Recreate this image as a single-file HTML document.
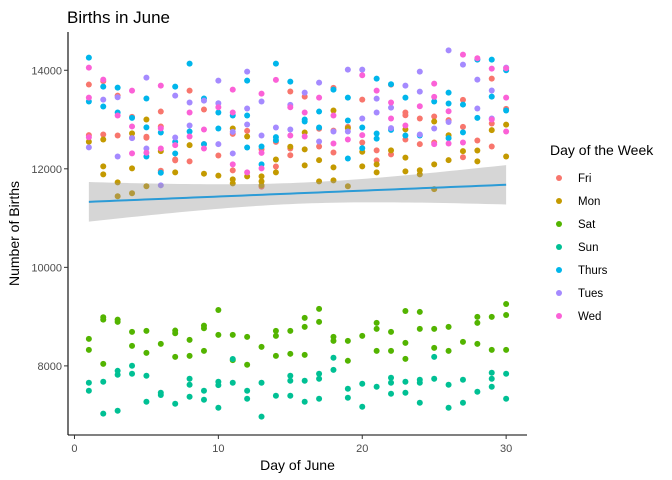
<!DOCTYPE html>
<html><head><meta charset="utf-8"><style>
body{margin:0;background:#fff;}
svg{display:block;font-family:"Liberation Sans",Arial,sans-serif;}
</style></head><body>
<svg id="chart" width="672" height="480"></svg>
<script>
const seriesNames=["Fri","Mon","Sat","Sun","Thurs","Tues","Wed"];
const seriesColors=["#F8766D","#C49A00","#53B400","#00C094","#00B6EB","#A58AFF","#FB61D7"];
const xTicks=[0,10,20,30];
const yTicks=[8000,10000,12000,14000];
const fitDays=[1,30];
const fitValues=[11330,11676];
const bandDays=[1,15.5,30];
const bandHalf=[402,213,400];
const fri=[[1,13710],[1,12684],[2,13780],[2,12697],[3,13486],[3,12677],[4,13054],[4,12629],[5,12650],[5,12630],[6,13162],[6,12860],[6,11961],[7,12190],[7,12170],[8,13588],[8,12151],[9,13203],[9,12500],[10,12270],[11,12709],[11,11969],[12,12770],[13,12398],[13,11638],[14,12546],[14,12047],[15,13568],[15,12413],[15,12276],[16,13466],[17,12812],[17,12453],[18,13642],[18,12776],[18,12332],[19,12852],[20,13405],[20,12534],[21,12373],[21,12170],[22,13709],[22,12294],[23,13142],[23,13088],[23,12595],[24,13021],[24,12500],[25,13061],[25,12534],[26,12987],[27,13399],[27,12852],[27,12235],[28,12575],[29,13831],[29,12920],[29,12452],[30,13216]];
const mon=[[1,12550],[2,12596],[2,12049],[2,11887],[3,11725],[3,11442],[4,12719],[4,12009],[4,11503],[5,13000],[5,11645],[6,12359],[7,11928],[8,12480],[9,11901],[10,11861],[11,12817],[11,11786],[11,11705],[12,12656],[12,11847],[13,11847],[13,11746],[13,11665],[14,12190],[14,11928],[15,12449],[16,12736],[16,12394],[16,12069],[17,12176],[17,11746],[18,13183],[18,12029],[18,11766],[19,12825],[19,11645],[20,12345],[20,12049],[21,12089],[21,11928],[22,12373],[23,12800],[23,12227],[23,11949],[24,11972],[24,11887],[25,12960],[25,12089],[25,11587],[26,12681],[26,12176],[27,12359],[28,12371],[28,12150],[29,12784],[30,12898],[30,12250]];
const sat=[[1,8548],[1,8326],[2,8987],[2,8940],[2,8042],[3,8940],[3,8893],[4,8690],[4,8406],[5,8710],[5,8265],[6,8447],[7,8717],[7,8663],[7,8184],[8,8528],[8,8204],[9,8818],[9,8764],[9,8305],[10,9135],[10,8629],[11,8629],[11,8116],[12,8589],[12,8022],[13,8386],[14,8710],[14,8609],[14,8204],[15,8710],[15,8245],[16,8974],[16,8791],[16,8224],[17,9156],[17,8893],[18,8589],[18,8508],[19,8508],[19,8103],[20,8609],[21,8872],[21,8751],[21,8305],[22,8690],[22,8305],[23,9115],[23,8467],[23,8143],[24,9095],[24,8751],[25,8751],[25,8366],[26,8791],[26,8305],[27,8487],[28,8994],[28,8872],[28,8447],[29,8994],[29,8326],[30,9257],[30,9034],[30,8326]];
const sun=[[1,7657],[1,7495],[2,7678],[2,7030],[3,7900],[3,7819],[3,7090],[4,8002],[4,7840],[5,7799],[5,7273],[6,7455],[6,7408],[7,7232],[8,7738],[8,7617],[8,7374],[9,7495],[9,7313],[10,7678],[10,7610],[10,7151],[11,8140],[11,7657],[12,7495],[12,7333],[13,7657],[13,6969],[14,7394],[15,7799],[15,7698],[15,7394],[16,7698],[16,7273],[17,7840],[17,7738],[17,7333],[18,8164],[18,7920],[19,7536],[19,7354],[20,7637],[20,7171],[21,7576],[22,7758],[22,7657],[22,7435],[23,7678],[23,7455],[24,7718],[24,7657],[24,7252],[25,8184],[25,7738],[26,7617],[26,7151],[27,7718],[27,7252],[28,7475],[29,7860],[29,7738],[29,7576],[30,7840],[30,7333]];
const thurs=[[1,14256],[1,13365],[2,13669],[2,13264],[3,13648],[3,13142],[4,13034],[5,13426],[5,12840],[5,12251],[6,12737],[6,11921],[7,13669],[7,12548],[7,12312],[8,14135],[8,12757],[9,13426],[9,12500],[10,13142],[10,12817],[11,13081],[12,13791],[12,13081],[12,12432],[13,12452],[13,12089],[14,14135],[14,12642],[14,12580],[15,13770],[16,13002],[16,12960],[17,13162],[17,12838],[18,13608],[19,13446],[19,12980],[19,12210],[20,12838],[20,12420],[21,13831],[21,12716],[21,12612],[22,13716],[22,12791],[23,13446],[23,12677],[24,12676],[25,13365],[26,13547],[26,13325],[26,12623],[27,13304],[27,12740],[28,14216],[28,13034],[29,14216],[29,13466],[30,14000],[30,13183]];
const tues=[[1,12434],[2,13405],[3,13452],[3,12251],[4,12622],[5,13851],[5,12413],[6,11665],[7,13486],[7,12636],[8,13345],[8,12879],[9,13385],[10,13791],[10,13331],[10,12500],[11,12750],[11,12312],[12,13973],[12,13223],[12,12899],[13,13365],[13,12675],[14,12839],[15,13297],[15,12798],[16,13547],[17,13750],[17,12554],[18,12758],[19,14014],[19,12758],[20,14014],[20,13020],[21,13425],[21,13142],[22,13243],[22,12825],[23,13689],[24,13973],[24,13567],[24,12697],[25,12818],[26,14405],[26,12949],[27,14115],[28,13811],[28,13223],[29,13589],[29,13020],[30,14054]];
const wed=[[1,14054],[1,13446],[1,12640],[2,13811],[3,13081],[4,13588],[4,12860],[4,12313],[5,12325],[6,13689],[6,12820],[6,12413],[7,12481],[8,13142],[8,12656],[9,12798],[9,12413],[10,13250],[11,13608],[11,13142],[11,12089],[12,11928],[13,13527],[13,12324],[13,12008],[14,13804],[15,13250],[15,12676],[16,13143],[16,12656],[17,13446],[18,13081],[18,12514],[19,12595],[20,13898],[20,12683],[21,13588],[22,13345],[22,13021],[23,12879],[24,13270],[25,13730],[25,13459],[25,12500],[26,13169],[26,12514],[27,14317],[27,12534],[28,14243],[29,14034],[29,13000],[30,14040],[30,13446],[30,12757]];

const allSeries=[fri,mon,sat,sun,thurs,tues,wed];
const NS="http://www.w3.org/2000/svg";
const svg=document.getElementById("chart");
function mk(tag,attrs,parent){const e=document.createElementNS(NS,tag);for(const k in attrs)e.setAttribute(k,attrs[k]);(parent||svg).appendChild(e);return e;}
const pl=68,pr=527,pt=32,pb=435;
let xs=[],ys=[];allSeries.forEach(s=>s.forEach(p=>{xs.push(p[0]);ys.push(p[1]);}));
const xmin=Math.min(...xs),xmax=Math.max(...xs),ymin=Math.min(...ys),ymax=Math.max(...ys);
const xlo=xmin-(xmax-xmin)*0.05,xhi=xmax+(xmax-xmin)*0.05;
const ylo=ymin-(ymax-ymin)*0.05,yhi=ymax+(ymax-ymin)*0.05;
function sx(v){return pl+(v-xlo)/(xhi-xlo)*(pr-pl);}
function sy(v){return pb-(v-ylo)/(yhi-ylo)*(pb-pt);}

// fit + band
function fitAt(x){return fitValues[0]+(fitValues[1]-fitValues[0])*(x-fitDays[0])/(fitDays[1]-fitDays[0]);}
function halfAt(x){const mid=bandDays[1];const hm=bandHalf[1];
const he=x<mid?bandHalf[0]:bandHalf[2];const de=x<mid?mid-bandDays[0]:bandDays[2]-mid;
const t=(x-mid)/de;return Math.sqrt(hm*hm+(he*he-hm*hm)*t*t);}
let up=[],dn=[],ln=[];
for(let k=0;k<=60;k++){const x=fitDays[0]+(fitDays[1]-fitDays[0])*k/60;const f=fitAt(x);const h=halfAt(x);
up.push(sx(x)+","+sy(f+h));dn.unshift(sx(x)+","+sy(f-h));ln.push(sx(x)+","+sy(f));}

// points
const gp=mk("g",{});


allSeries.forEach((ser,i)=>{ser.forEach(p=>{const c=mk("circle",{cx:sx(p[0]),cy:sy(p[1]),r:3,fill:seriesColors[i]},gp);

});});

const band=mk("polygon",{points:up.concat(dn).join(" "),fill:"#999",opacity:0.4});


const line=mk("polyline",{points:ln.join(" "),fill:"none",stroke:"#2B9BD6","stroke-width":2});



// axes
const ax=mk("line",{x1:pl,y1:pt,x2:pl,y2:pb,stroke:"#000","stroke-width":1.1});


const bx=mk("line",{x1:pl,y1:pb,x2:pr,y2:pb,stroke:"#000","stroke-width":1.1});


yTicks.forEach(v=>{const y=sy(v);mk("line",{x1:pl-4,y1:y,x2:pl,y2:y,stroke:"#333"});
const t=mk("text",{x:pl-6,y:y+4,"text-anchor":"end","font-size":11,fill:"#4D4D4D"});t.textContent=v;

});
xTicks.forEach(v=>{const x=sx(v);mk("line",{x1:x,y1:pb,x2:x,y2:pb+4,stroke:"#333"});
const t=mk("text",{x:x,y:pb+17,"text-anchor":"middle","font-size":11,fill:"#4D4D4D"});t.textContent=v;

});
const xt=mk("text",{x:(pl+pr)/2,y:470,"text-anchor":"middle","font-size":14});xt.textContent="Day of June";


const yt=mk("text",{x:0,y:0,transform:"translate(19,"+((pt+pb)/2)+") rotate(-90)","text-anchor":"middle","font-size":14});yt.textContent="Number of Births";


const ti=mk("text",{x:67,y:23,"font-size":17});ti.textContent="Births in June";



// legend
const lt=mk("text",{x:550,y:155,"font-size":14});lt.textContent="Day of the Week";


seriesNames.forEach((nm,i)=>{const y=178+i*23;const g=mk("g",{});


mk("circle",{cx:559,cy:y,r:3,fill:seriesColors[i]},g);
const t=mk("text",{x:578,y:y+4,"font-size":11.5},g);t.textContent=nm;});
</script>
</body></html>
